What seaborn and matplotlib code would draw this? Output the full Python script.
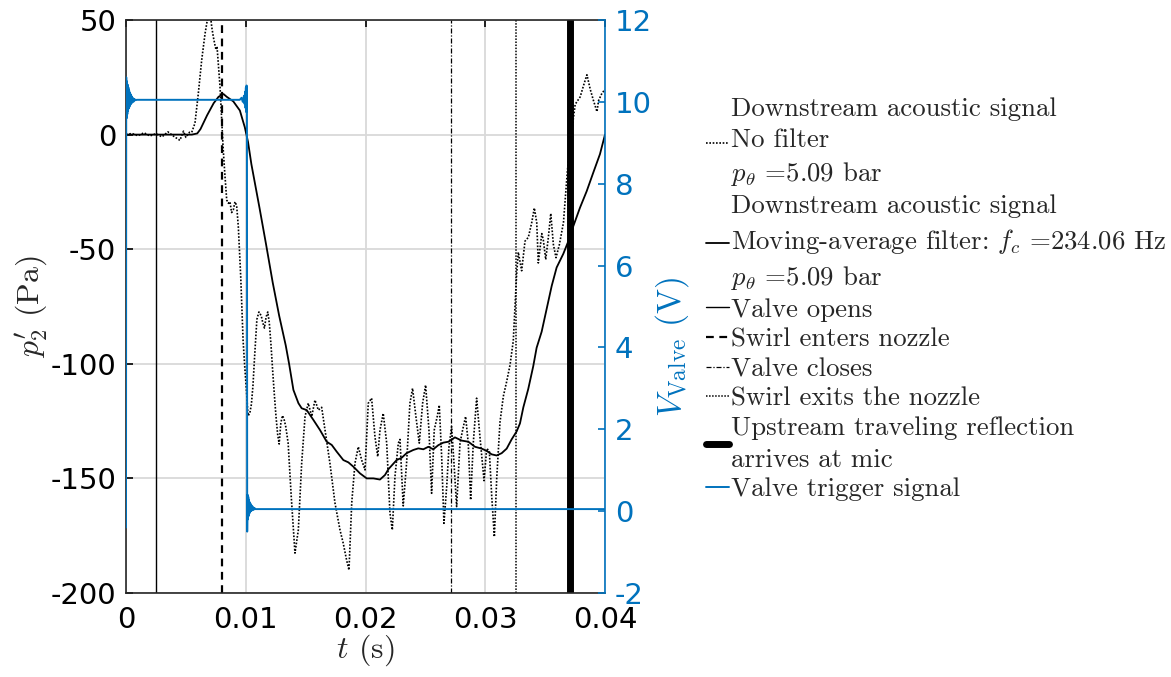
import matplotlib
matplotlib.use("Agg")
import matplotlib.pyplot as plt
from matplotlib.lines import Line2D
import seaborn as sns
import pandas as pd

# ---------------- data ----------------
raw_t = [0.0, 0.0005, 0.001, 0.0015, 0.002, 0.0025, 0.003, 0.0035, 0.004, 0.0045,
         0.0048, 0.005, 0.0053, 0.00549, 0.00576, 0.00604, 0.00632, 0.0066, 0.00679,
         0.00693, 0.00705, 0.00716, 0.00729, 0.00743, 0.00752, 0.0076, 0.00771, 0.00785,
         0.00799, 0.00812, 0.00827, 0.00841, 0.00855, 0.00868, 0.00882, 0.00896, 0.0091,
         0.00924, 0.00938, 0.00958, 0.00978, 0.00992, 0.01005, 0.01019, 0.01033, 0.01047,
         0.0106, 0.01074, 0.01093, 0.0111, 0.01129, 0.01142, 0.01156, 0.0117, 0.01184,
         0.01197, 0.01211, 0.01225, 0.01238, 0.01252, 0.01266, 0.01279, 0.01293, 0.01307,
         0.0132, 0.01334, 0.01354, 0.0138, 0.01411, 0.01439, 0.01467, 0.01495, 0.01522,
         0.01551, 0.01578, 0.01606, 0.01634, 0.01662, 0.01703, 0.01745, 0.01787, 0.01814,
         0.01842, 0.01862, 0.01885, 0.01912, 0.0194, 0.01968, 0.01996, 0.02023, 0.02051,
         0.02079, 0.02102, 0.02121, 0.02148, 0.02177, 0.02204, 0.02224, 0.02246, 0.02274,
         0.02288, 0.02315, 0.02343, 0.02371, 0.02393, 0.02421, 0.02449, 0.02477, 0.02502,
         0.0253, 0.02552, 0.02574, 0.02599, 0.02616, 0.02636, 0.02655, 0.02678, 0.02697,
         0.02719, 0.02739, 0.02761, 0.02789, 0.02811, 0.02836, 0.02858, 0.02878, 0.029,
         0.02928, 0.02956, 0.0299, 0.03012, 0.03034, 0.03054, 0.03076, 0.03096, 0.03123,
         0.03151, 0.03179, 0.03207, 0.03234, 0.03262, 0.03276, 0.03304, 0.03332, 0.0336,
         0.03388, 0.0341, 0.0343, 0.03443, 0.03472, 0.03485, 0.03505, 0.03527, 0.03547,
         0.03569, 0.03591, 0.03619, 0.03653, 0.03686, 0.03715, 0.03751, 0.03793, 0.0382,
         0.03849, 0.03877, 0.03904, 0.03933, 0.03946, 0.03974, 0.04]
raw_p = [0.0, 0.5, -0.5, 0.8, -0.6, 0.4, -1.0, 1.2, -0.8, -2.5,
         1.5, -1.2, 1.0, 1.0, 5.0, 18.0, 32.5, 44.0, 50.0,
         54.0, 52.0, 47.0, 42.7, 39.0, 37.0, 38.5, 31.0, 21.0,
         6.4, -6.7, -18.4, -28.5, -30.0, -29.3, -34.0, -32.9, -29.3,
         -31.0, -40.2, -62.0, -90.0, -101.6, -111.0, -122.6, -121.8, -117.7,
         -109.7, -96.8, -80.6, -77.4, -79.0, -82.0, -84.4, -79.6, -77.4,
         -82.3, -91.9, -103.2, -112.9, -122.6, -130.6, -135.0, -125.8, -122.6,
         -124.2, -127.4, -134.6, -158.0, -182.6, -172.5, -143.4, -123.0, -117.2,
         -123.0, -115.8, -120.2, -119.0, -128.9, -143.4, -160.7, -172.5, -178.3,
         -185.6, -190.0, -160.7, -143.4, -136.2, -142.0, -146.3, -117.2, -115.0,
         -131.8, -140.5, -128.9, -121.6, -134.6, -165.0, -172.5, -149.2, -134.6,
         -133.0, -162.0, -143.4, -117.2, -110.7, -123.0, -134.6, -117.2, -109.3,
         -128.9, -156.5, -128.9, -123.0, -118.0, -140.5, -169.6, -153.6, -136.2,
         -127.4, -143.4, -162.3, -134.6, -128.9, -123.0, -134.6, -159.4, -134.6,
         -115.0, -132.0, -151.0, -137.0, -138.0, -157.7, -175.5, -149.7, -125.5,
         -114.2, -107.7, -100.5, -90.0, -61.0, -51.3, -59.4, -46.5, -44.8,
         -38.4, -32.0, -38.4, -56.0, -43.2, -46.0, -54.5, -44.8, -34.4,
         -48.0, -53.7, -48.0, -38.4, -15.8, -1.3, 13.2, 16.5, 21.3,
         26.1, 19.7, 14.8, 10.0, 14.8, 18.0, 19.7]

ma_t = [0.0, 0.0055, 0.00595, 0.00622, 0.00677, 0.00732, 0.00773, 0.00814, 0.00841,
        0.00896, 0.00951, 0.00992, 0.01019, 0.01047, 0.01115, 0.0117, 0.01225, 0.01279,
        0.01334, 0.01362, 0.01398, 0.0144, 0.01467, 0.01509, 0.01565, 0.0162, 0.01676,
        0.01718, 0.01759, 0.01815, 0.01857, 0.01899, 0.01954, 0.0201, 0.02066, 0.02121,
        0.02163, 0.02191, 0.0226, 0.02302, 0.02343, 0.02399, 0.02441, 0.02483, 0.02525,
        0.02566, 0.02608, 0.0265, 0.02692, 0.02747, 0.02803, 0.02859, 0.02914, 0.0297,
        0.03012, 0.03053, 0.03095, 0.03137, 0.03179, 0.0322, 0.03262, 0.0329, 0.03318,
        0.03359, 0.03401, 0.03429, 0.03471, 0.03513, 0.03555, 0.03596, 0.03652, 0.03694,
        0.03735, 0.03791, 0.03847, 0.03902, 0.03958, 0.04]
ma_p = [0.0, 0.0, 0.5, 2.4, 8.4, 13.7, 16.5, 17.7, 16.5,
        14.5, 10.5, 3.2, -3.2, -12.9, -32.0, -48.0, -64.5, -79.0,
        -92.0, -100.0, -111.4, -117.2, -119.4, -120.2, -124.5, -128.9, -134.0,
        -135.4, -138.3, -142.0, -143.0, -144.9, -147.8, -150.0, -150.0, -150.5,
        -148.5, -146.0, -142.0, -141.0, -139.0, -137.6, -136.9, -137.3, -136.2,
        -137.3, -135.5, -134.4, -134.0, -132.1, -133.5, -134.0, -136.2, -137.0,
        -138.0, -139.5, -140.0, -139.0, -137.0, -133.0, -129.5, -126.0, -119.0,
        -111.0, -101.0, -93.0, -86.0, -76.0, -66.0, -58.0, -52.0, -46.5,
        -40.0, -31.9, -24.7, -16.6, -8.5, 0.0]

trig_t = [0.0, 0.00002, 0.00005, 0.00008, 0.00011, 0.00014, 0.00017, 0.0002, 0.00023,
          0.00026, 0.00029, 0.00032, 0.00035, 0.00038, 0.00041, 0.00044, 0.00047, 0.0005,
          0.00055, 0.0006, 0.00065, 0.0007, 0.0008, 0.0009, 0.0095, 0.00965, 0.00975,
          0.00985, 0.0099, 0.00995, 0.00998, 0.01001, 0.01004, 0.01007, 0.0101, 0.01012,
          0.01015, 0.01018, 0.01021, 0.01024, 0.01027, 0.0103, 0.01033, 0.01036, 0.0104,
          0.01044, 0.01048, 0.01053, 0.01058, 0.01065, 0.01072, 0.0108, 0.04]
trig_v = [-0.4, 10.6, 9.6, 10.5, 9.7, 10.42, 9.78, 10.35, 9.84,
          10.28, 9.88, 10.23, 9.92, 10.19, 9.95, 10.15, 9.97, 10.12,
          9.99, 10.09, 10.01, 10.07, 10.04, 10.05, 10.05, 10.1, 10.0,
          10.15, 9.95, 10.25, 9.85, 10.35, 9.75, 10.4, 9.7, -0.5,
          0.4, -0.2, 0.35, -0.12, 0.28, -0.06, 0.22, -0.02, 0.18,
          0.0, 0.14, 0.02, 0.11, 0.03, 0.08, 0.05, 0.05]

event_t = [0.0025, 0.008, 0.0271, 0.0326, 0.0371]
event_labels = ["Valve opens", "Swirl enters nozzle", "Valve closes",
                "Swirl exits the nozzle", "Upstream traveling reflection\narrives at mic"]

x_ticks = [0, 0.01, 0.02, 0.03, 0.04]
x_ticklabels = ["0", "0.01", "0.02", "0.03", "0.04"]
y_ticks = [-200, -150, -100, -50, 0, 50]
y2_ticks = [-2, 0, 2, 4, 6, 8, 10, 12]

label_raw = "Downstream acoustic signal\nNo filter\n$p_\\theta$ =5.09 bar"
label_ma = "Downstream acoustic signal\nMoving-average filter: $f_c$ =234.06 Hz\n$p_\\theta$ =5.09 bar"
label_trig = "Valve trigger signal"

# ---------------- style ----------------
sns.set_theme(style="white")
plt.rcParams["font.family"] = ["DejaVu Sans"]
plt.rcParams["mathtext.fontset"] = "cm"
plt.rcParams["axes.unicode_minus"] = False

BLUE = "#0072BD"
SERIF = "cmr10"

fig = plt.figure(figsize=(11.71, 6.77), dpi=100)
ax = fig.add_axes([126 / 1171, 1 - 593 / 677, (605 - 126) / 1171, (593 - 20) / 677])

df_raw = pd.DataFrame({"t": raw_t, "p": raw_p})
df_ma = pd.DataFrame({"t": ma_t, "p": ma_p})
df_trig = pd.DataFrame({"t": trig_t, "v": trig_v})

DOT = (0, (1, 1))
sns.lineplot(data=df_raw, x="t", y="p", ax=ax, color="black", lw=1.2,
             linestyle=DOT, sort=False, estimator=None, zorder=3)
sns.lineplot(data=df_ma, x="t", y="p", ax=ax, color="black", lw=1.3,
             sort=False, estimator=None, zorder=4)

styles = [dict(ls="-", lw=1.0), dict(ls=(0, (3.5, 2.5)), lw=1.6),
          dict(ls=(0, (4, 1.5, 1, 1.5)), lw=0.9), dict(ls=DOT, lw=1.1),
          dict(ls="-", lw=5.0)]
for tt, st in zip(event_t, styles):
    ax.axvline(tt, color="black", zorder=2, **st)

ax.set_xlim(0, 0.04)
ax.set_ylim(-200, 50)
ax.set_xticks(x_ticks)
ax.set_xticklabels(x_ticklabels)
ax.set_yticks(y_ticks)
ax.set_yticklabels([str(v) for v in y_ticks])
ax.grid(True, color="#d9d9d9", lw=1.3)
ax.set_axisbelow(True)
ax.tick_params(axis="both", direction="in", length=5, width=1.2, labelsize=21,
               colors="black", top=True, right=False, pad=7)
ax.tick_params(axis="x", pad=9)
for s in ["left", "top", "bottom"]:
    ax.spines[s].set_color("#262626")
    ax.spines[s].set_linewidth(1.2)
ax.spines["right"].set_visible(False)
ax.set_xlabel("$t$ (s)", fontsize=23, family=SERIF, labelpad=-1)
ax.set_ylabel("$p^{\\prime}_2$ (Pa)", fontsize=23, family=SERIF, labelpad=0)

ax2 = ax.twinx()
sns.lineplot(data=df_trig, x="t", y="v", ax=ax2, color=BLUE, lw=1.4,
             sort=False, estimator=None)
ax2.set_ylim(-2, 12)
ax2.set_yticks(y2_ticks)
ax2.set_yticklabels([str(v) for v in y2_ticks])
ax2.tick_params(axis="y", direction="in", length=5, width=1.2, labelsize=21,
                colors=BLUE, pad=7)
ax2.spines["right"].set_color(BLUE)
ax2.spines["right"].set_linewidth(1.2)
for s in ["left", "top", "bottom"]:
    ax2.spines[s].set_visible(False)
ax2.set_ylabel("$V_{\\mathrm{Valve}}$ (V)", fontsize=24, family=SERIF, color=BLUE)
ax2.yaxis.set_label_coords(1.1, 0.43)
ax2.set_xlim(0, 0.04)

handles = [Line2D([], [], color="black", lw=1.2, ls=DOT),
           Line2D([], [], color="black", lw=1.3)]
for st in styles:
    handles.append(Line2D([], [], color="black", **st))
handles.append(Line2D([], [], color=BLUE, lw=1.4))
labels = [label_raw, label_ma] + event_labels + [label_trig]

leg = fig.legend(handles, labels, loc="upper left", bbox_to_anchor=(706 / 1171, 1 - 97 / 677),
                 frameon=False, handlelength=0.85, handletextpad=0.08, labelspacing=0.22,
                 borderaxespad=0, borderpad=0, prop={"family": SERIF, "size": 19.3})
for txt in leg.get_texts():
    txt.set_linespacing(1.4)

fig.savefig("out.png", dpi=100)
